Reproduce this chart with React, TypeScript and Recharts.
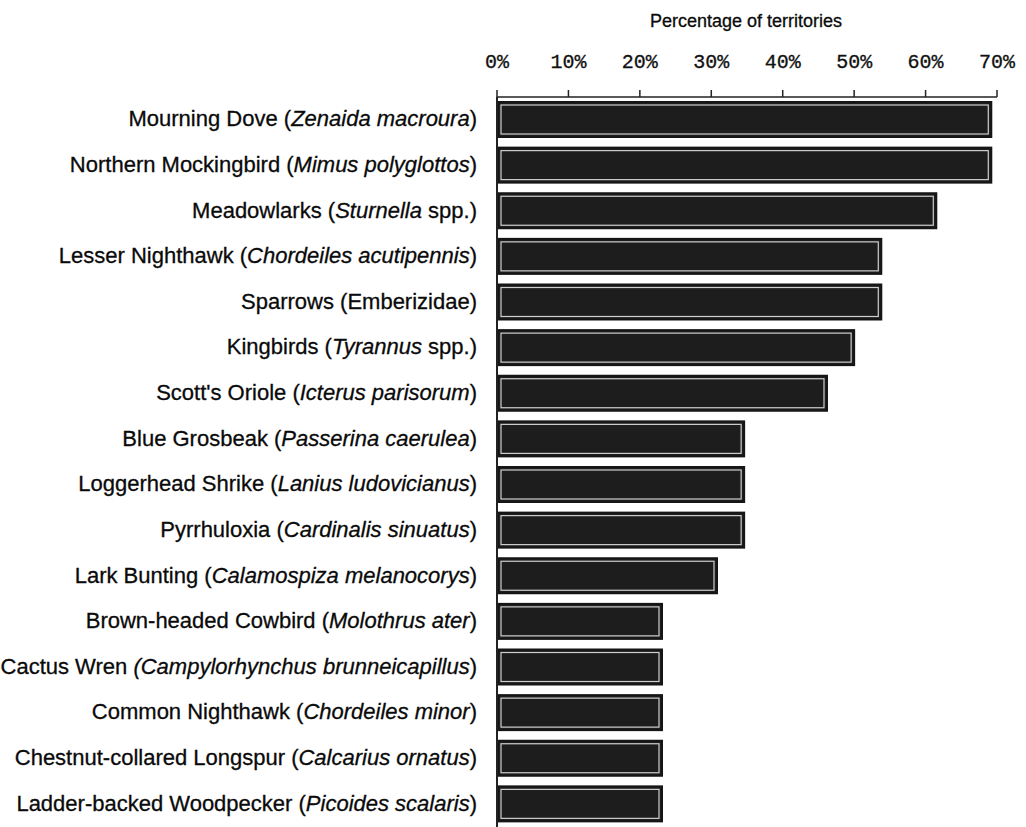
import React from 'react';
import { BarChart, Bar, XAxis, YAxis } from 'recharts';

const labelPrefix = [
  'Mourning Dove (',
  'Northern Mockingbird (',
  'Meadowlarks (',
  'Lesser Nighthawk (',
  'Sparrows (Emberizidae)',
  'Kingbirds (',
  "Scott's Oriole (",
  'Blue Grosbeak (',
  'Loggerhead Shrike (',
  'Pyrrhuloxia (',
  'Lark Bunting (',
  'Brown-headed Cowbird (',
  'Cactus Wren ',
  'Common Nighthawk (',
  'Chestnut-collared Longspur (',
  'Ladder-backed Woodpecker (',
];
const labelItalic = [
  'Zenaida macroura',
  'Mimus polyglottos',
  'Sturnella',
  'Chordeiles acutipennis',
  '',
  'Tyrannus',
  'Icterus parisorum',
  'Passerina caerulea',
  'Lanius ludovicianus',
  'Cardinalis sinuatus',
  'Calamospiza melanocorys',
  'Molothrus ater',
  '(Campylorhynchus brunneicapillus',
  'Chordeiles minor',
  'Calcarius ornatus',
  'Picoides scalaris',
];
const labelSuffix = [')', ')', ' spp.)', ')', '', ' spp.)', ')', ')', ')', ')', ')', ')', ')', ')', ')', ')'];
const percentValues = [69.2, 69.2, 61.5, 53.8, 53.8, 50.0, 46.2, 34.6, 34.6, 34.6, 30.8, 23.1, 23.1, 23.1, 23.1, 23.1];
const xTicks = [0, 10, 20, 30, 40, 50, 60, 70];

const data = labelPrefix.map((p, i) => ({
  name: p + labelItalic[i] + labelSuffix[i],
  value: percentValues[i],
}));

const YTick = (props: any) => {
  const { x, y, payload } = props;
  const i = payload.index;
  return (
    <text
      x={x}
      y={y - 1.5}
      textAnchor="end"
      dominantBaseline="central"
      fontFamily="'Liberation Sans', Arial, sans-serif"
      fontSize={22}
      fill="#0a0a0a"
      stroke="#0a0a0a"
      strokeWidth={0.3}
    >
      <tspan>{labelPrefix[i]}</tspan>
      {labelItalic[i] ? <tspan fontStyle="italic">{labelItalic[i]}</tspan> : null}
      {labelSuffix[i] ? <tspan>{labelSuffix[i]}</tspan> : null}
    </text>
  );
};

const BarShape = (props: any) => {
  const { x, y, width, height } = props;
  return (
    <g>
      <rect x={x + 1} y={y} width={width - 1} height={height} fill="#1d1d1d" stroke="#151515" strokeWidth={2} />
      <rect x={x + 4} y={y + 3} width={Math.max(0, width - 7)} height={height - 6} fill="none" stroke="#cfcfcf" strokeWidth={1.2} />
    </g>
  );
};

const Title = (props: any) => {
  const vb = props.viewBox || { x: 497, y: 0, width: 500 };
  return (
    <text
      x={vb.x + vb.width / 2 - 1}
      y={vb.y + 27}
      textAnchor="middle"
      fontFamily="'Liberation Sans', Arial, sans-serif"
      fontSize={18}
      fill="#0a0a0a"
      stroke="#0a0a0a"
      strokeWidth={0.3}
    >
      Percentage of territories
    </text>
  );
};

export default function App() {
  return (
    <div style={{ position: 'absolute', left: 0, top: 0, background: '#fff' }}>
      <BarChart
        width={1026}
        height={827}
        data={data}
        layout="vertical"
        margin={{ top: 0, right: 29, bottom: 0, left: 0 }}
      >
        <XAxis
          type="number"
          orientation="top"
          domain={[0, 70]}
          ticks={xTicks}
          interval={0}
          tickFormatter={(v: number) => `${v}%`}
          height={97}
          tickSize={7}
          tickMargin={22}
          axisLine={{ stroke: '#222', strokeWidth: 1.5 }}
          tickLine={{ stroke: '#222', strokeWidth: 1.5 }}
          tick={{ fill: '#111', stroke: '#111', strokeWidth: 0.3, fontFamily: "'Liberation Mono', 'DejaVu Sans Mono', monospace", fontSize: 20 }}
          label={(p: any) => <Title {...p} />}
        />
        <YAxis
          type="category"
          dataKey="name"
          width={497}
          interval={0}
          tickLine={false}
          tickSize={0}
          tickMargin={20}
          axisLine={{ stroke: '#222', strokeWidth: 2 }}
          tick={<YTick />}
        />
        <Bar dataKey="value" barSize={35} shape={<BarShape />} isAnimationActive={false} />
      </BarChart>
    </div>
  );
}
